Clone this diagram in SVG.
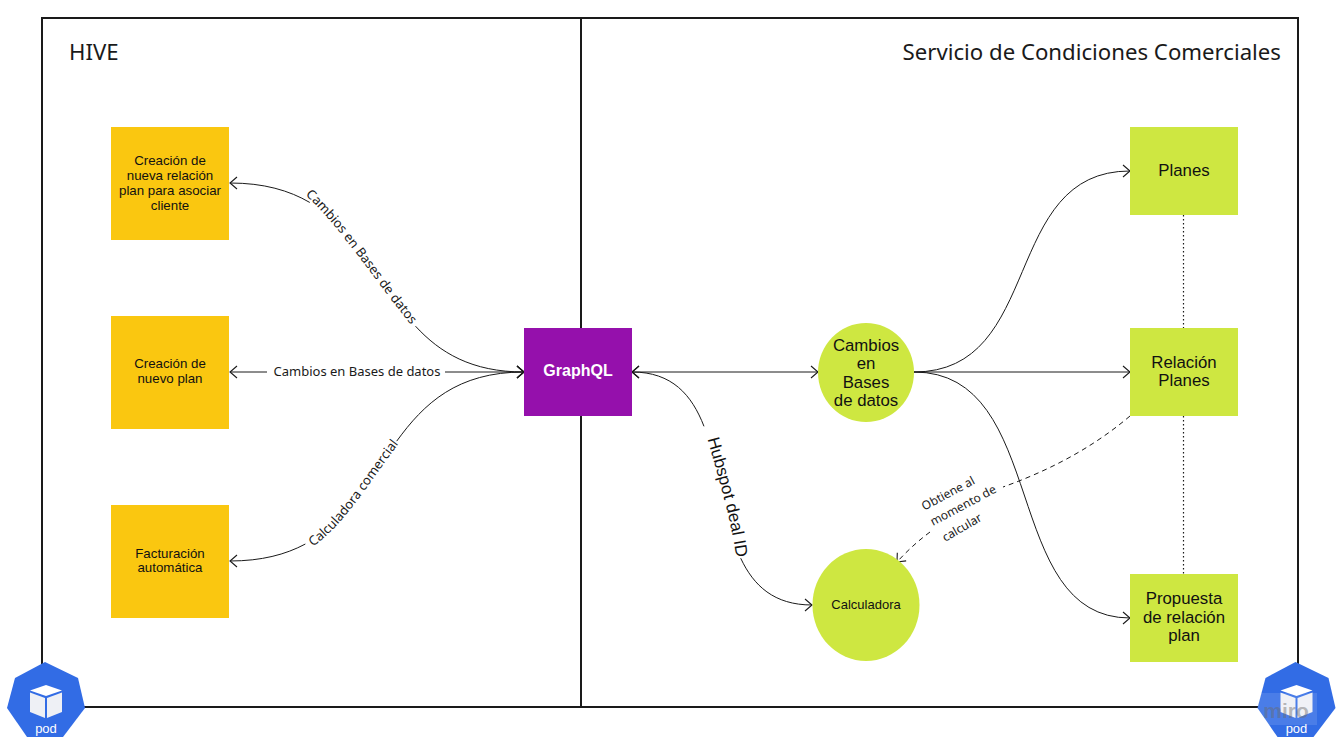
<svg xmlns="http://www.w3.org/2000/svg" xmlns:xlink="http://www.w3.org/1999/xlink" width="1338" height="747" viewBox="0 0 1338 747">
<style>
.frame{fill:none;stroke:#1a1a1a;stroke-width:2}
.y{fill:#fac710}.g{fill:#cee741}.p{fill:#9510ac}
.n{font-family:"Liberation Sans",Arial,sans-serif;fill:#111;text-anchor:middle}
.s13{font-size:13.300px}.s16{font-size:16.800px}
.lab{font-family:"Noto Sans","Open Sans",sans-serif;fill:#1a1a1a;text-anchor:middle;font-size:13px}
.title{font-family:"Noto Sans","Open Sans",sans-serif;fill:#1a1a1a;font-size:22.200px}
.c{fill:none;stroke:#1a1a1a;stroke-width:1}
.arr{marker-end:url(#a)}.both{marker-start:url(#a);marker-end:url(#a)}
.dash{stroke-dasharray:5 4}
.dot{stroke:#1a1a1a;stroke-width:1.200;stroke-dasharray:1.500 2.500}
.hx{fill:#326ce5}.podt{font-family:"Liberation Sans",Arial,sans-serif;fill:#fff;font-size:13px;text-anchor:middle}
</style>
<defs>
<marker id="a" markerUnits="userSpaceOnUse" markerWidth="14" markerHeight="16" refX="11" refY="7" orient="auto-start-reverse" viewBox="0 0 14 14"><path d="M4 1 L11 7 L4 13" fill="none" stroke="#1a1a1a" stroke-width="1.100"/></marker>
<g id="podshape">
<polygon class="hx" points="45,662 78,678 85,708 63,737 27,737 7,708 15,678"/>
<polygon points="46,685 62,690.500 46,696 30,690.500" fill="#fff"/>
<polygon points="30,692.500 45,698 45,718 30,712" fill="#eef0f5"/>
<polygon points="47,698 62,692.500 62,712 47,718" fill="#eef0f5"/>
<text class="podt" x="46" y="733">pod</text>
</g>
<path id="t1" d="M304,194 C335,220 378,285 412,326"/>
<path id="t2" d="M311,548 C345,525 372,478 400,442"/>
<path id="t3" d="M706,434 C716,470 732,520 737,563"/>
</defs>
<g id="frames">
<rect class="frame" x="42" y="18" width="1256" height="689"/>
<line class="frame" x1="581" y1="18" x2="581" y2="707"/>
</g>
<text class="title" x="69" y="60">HIVE</text>
<text class="title" x="1281" y="60" text-anchor="end">Servicio de Condiciones Comerciales</text>
<g id="connectors">
<path class="c both" stroke-dasharray="83 164 9999" d="M230,183 C400,183 360,372 524,372"/>
<path class="c both" stroke-dasharray="37 178 9999" d="M230,372 L524,372"/>
<path class="c both" stroke-dasharray="78 139 9999" d="M230,561 C400,561 360,372 524,372"/>
<path class="c both" d="M632,372 L818,372"/>
<path class="c both" stroke-dasharray="97 137 9999" d="M632,372 C760,372 680,605 812,605"/>
<path class="c arr" d="M914,372 C1045,372 1000,171 1130,171"/>
<path class="c arr" d="M914,372 L1130,372"/>
<path class="c arr" d="M914,372 C1050,372 1000,618 1130,618"/>
<path class="c dash" d="M1130,416 C1090,450 1045,472 1003,487"/>
<path class="c dash arr" d="M930,532 C918,541 908,550 897,562"/>
<line class="dot" x1="1183.500" y1="215" x2="1183.500" y2="328"/>
<line class="dot" x1="1183.500" y1="416" x2="1183.500" y2="574"/>
</g>
<g id="labels">
<text class="lab"><textPath href="#t1" xlink:href="#t1" startOffset="50%">Cambios en Bases de datos</textPath></text>
<text class="lab" x="357" y="376">Cambios en Bases de datos</text>
<text class="lab"><textPath href="#t2" xlink:href="#t2" startOffset="50%">Calculadora comercial</textPath></text>
<text class="n" style="font-size:17px"><textPath href="#t3" xlink:href="#t3" startOffset="50%">Hubspot deal ID</textPath></text>
<text class="lab" style="font-size:12px" transform="translate(950,497) rotate(-28)">Obtiene al</text>
<text class="lab" style="font-size:12px" transform="translate(965,509) rotate(-28)">momento de</text>
<text class="lab" style="font-size:12px" transform="translate(964,531) rotate(-30)">calcular</text>
</g>
<g id="n1"><rect class="y" x="111" y="127" width="118" height="113"/>
<text class="n s13"><tspan x="170" y="165">Creación de</tspan><tspan x="170" y="180">nueva relación</tspan><tspan x="170" y="195">plan para asociar</tspan><tspan x="170" y="210">cliente</tspan></text></g>
<g id="n2"><rect class="y" x="111" y="316" width="118" height="113"/>
<text class="n s13"><tspan x="170" y="368">Creación de</tspan><tspan x="170" y="383">nuevo plan</tspan></text></g>
<g id="n3"><rect class="y" x="111" y="505" width="118" height="113"/>
<text class="n s13"><tspan x="170" y="558">Facturación</tspan><tspan x="170" y="572">automática</tspan></text></g>
<g id="graphql"><rect class="p" x="524" y="328" width="108" height="88"/>
<text class="n" x="578" y="376" style="font-size:16px;fill:#fff;font-weight:bold">GraphQL</text></g>
<g id="cambios"><ellipse class="g" cx="866" cy="372.500" rx="48" ry="49.500"/>
<text class="n s16"><tspan x="866" y="351">Cambios</tspan><tspan x="866" y="369">en</tspan><tspan x="866" y="388">Bases</tspan><tspan x="866" y="406">de datos</tspan></text></g>
<g id="calculadora"><ellipse class="g" cx="866" cy="605" rx="53.500" ry="56"/>
<text class="n" x="866" y="609" style="font-size:13px">Calculadora</text></g>
<g id="planes"><rect class="g" x="1130" y="127" width="108" height="88"/>
<text class="n s16" x="1184" y="176">Planes</text></g>
<g id="relacion"><rect class="g" x="1130" y="328" width="108" height="88"/>
<text class="n s16"><tspan x="1184" y="368">Relación</tspan><tspan x="1184" y="386">Planes</tspan></text></g>
<g id="propuesta"><rect class="g" x="1130" y="574" width="108" height="88"/>
<text class="n s16"><tspan x="1184" y="604">Propuesta</tspan><tspan x="1184" y="623">de relación</tspan><tspan x="1184" y="641">plan</tspan></text></g>
<g id="pod-left"><use href="#podshape" xlink:href="#podshape"/></g>
<g id="pod-right"><use href="#podshape" xlink:href="#podshape" x="1250.500"/>
<rect x="1258" y="693" width="59" height="32" fill="#fff" fill-opacity="0.12"/>
<text x="1286" y="718" font-family="'Liberation Sans',Arial,sans-serif" font-size="21" font-weight="bold" text-anchor="middle" fill="#6a6a6a" fill-opacity="0.45">miro</text></g>
</svg>
